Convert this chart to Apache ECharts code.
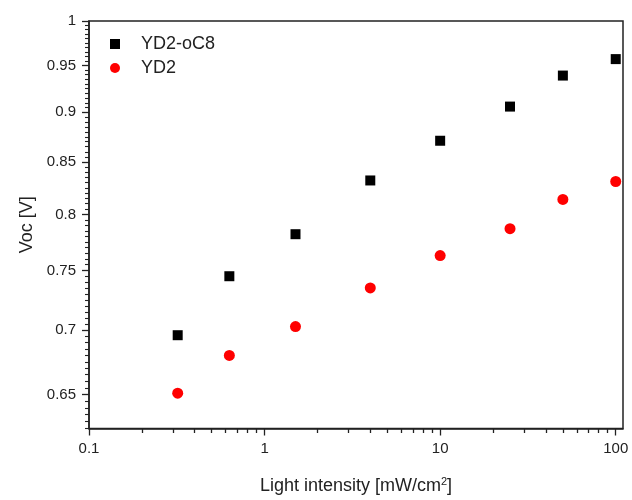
<!DOCTYPE html>
<html>
<head>
<meta charset="utf-8">
<script src="https://cdn.jsdelivr.net/npm/echarts@6/dist/echarts.min.js"></script>
<style>
html,body{margin:0;padding:0;background:#fff;}
#chart{width:632px;height:500px;}
</style>
</head>
<body>
<div id="chart"></div>
<script>
// Light intensity (mW/cm^2)
var intensity = [0.32, 0.63, 1.5, 4, 10, 25, 50, 100];
// Voc (V)
var vocYD2oC8 = [0.696, 0.745, 0.782, 0.832, 0.871, 0.906, 0.939, 0.957];
var vocYD2 = [0.651, 0.680, 0.703, 0.735, 0.763, 0.787, 0.814, 0.831];
// Axis ticks
var xTickLabels = [0.1, 1, 10, 100];
var yTickLabels = [0.65, 0.7, 0.75, 0.8, 0.85, 0.9, 0.95, 1];
var xRange = [0.1, 110];
var yRange = [0.625, 1];

var lg = function (v) { return Math.log10(v); };
var fmt = function (v) { return String(Math.round(Math.pow(10, v) * 1000) / 1000); };

var xMinor = [];
[0.1, 1, 10].forEach(function (d) { for (var k = 2; k <= 9; k++) xMinor.push(lg(d * k)); });
var yMinor = [];
for (var i = 0; i <= 75; i++) { var v = 0.625 + i * 0.005; if (Math.round(v * 1000) % 50 !== 0) yMinor.push(lg(v)); }

var font = 'Liberation Sans, Arial, sans-serif';
var axisColor = '#222';
var G = {left: 89, right: 9, top: 21, bottom: 71};
var gridW = 632 - G.left - G.right, gridH = 500 - G.top - G.bottom;

var chart = echarts.init(document.getElementById('chart'), null, {renderer: 'canvas'});
chart.setOption({
  animation: false,
  grid: {left: G.left, right: G.right, top: G.top, bottom: G.bottom, show: true, borderColor: axisColor, borderWidth: 1.5, backgroundColor: 'transparent'},
  legend: {
    orient: 'vertical', left: 105, top: 30, itemGap: 6, itemWidth: 10, itemHeight: 10,
    textStyle: {fontFamily: font, fontSize: 18, color: '#222', padding: [0, 0, 0, 16]},
    data: [{name: 'YD2-oC8', icon: 'rect'}, {name: 'YD2', icon: 'circle'}]
  },
  xAxis: [{
    type: 'value', position: 'bottom', min: lg(xRange[0]), max: lg(xRange[1]),
    name: 'Light intensity [mW/cm{sup|2}]', nameLocation: 'middle', nameGap: 48,
    nameTextStyle: {fontFamily: font, fontSize: 18, color: '#222',
      rich: {sup: {fontFamily: font, fontSize: 11, color: '#222', verticalAlign: 'top', padding: [0, 0, 8, 0]}}},
    axisLine: {show: true, onZero: false, lineStyle: {color: axisColor, width: 1.5}},
    axisTick: {show: true, inside: false, length: 7, lineStyle: {color: axisColor, width: 1.3}, customValues: xTickLabels.map(lg)},
    axisLabel: {show: true, margin: 13, fontFamily: font, fontSize: 15, color: '#222', customValues: xTickLabels.map(lg), formatter: fmt},
    splitLine: {show: false}
  }, {
    type: 'value', position: 'top', offset: -gridH, min: lg(xRange[0]), max: lg(xRange[1]),
    axisLine: {show: false, onZero: false},
    axisTick: {show: true, inside: true, length: 4, lineStyle: {color: axisColor, width: 1.3}, customValues: xMinor},
    axisLabel: {show: false},
    splitLine: {show: false}
  }],
  yAxis: [{
    type: 'value', position: 'left', min: lg(yRange[0]), max: lg(yRange[1]),
    name: 'Voc [V]', nameLocation: 'middle', nameGap: 50, nameRotate: 90,
    nameTextStyle: {fontFamily: font, fontSize: 18, color: '#222'},
    axisLine: {show: true, onZero: false, lineStyle: {color: axisColor, width: 1.5}},
    axisTick: {show: true, inside: false, length: 7, lineStyle: {color: axisColor, width: 1.3}, customValues: yTickLabels.map(lg)},
    axisLabel: {show: true, margin: 13, fontFamily: font, fontSize: 15, color: '#222', customValues: yTickLabels.map(lg), formatter: fmt},
    splitLine: {show: false}
  }, {
    type: 'value', position: 'right', offset: -gridW, min: lg(yRange[0]), max: lg(yRange[1]),
    axisLine: {show: false, onZero: false},
    axisTick: {show: true, inside: true, length: 4, lineStyle: {color: axisColor, width: 1.1}, customValues: yMinor},
    axisLabel: {show: false},
    splitLine: {show: false}
  }],
  series: [{
    name: 'YD2-oC8', type: 'scatter', xAxisIndex: 0, yAxisIndex: 0,
    symbol: 'rect', symbolSize: 10, itemStyle: {color: '#000', opacity: 1},
    data: intensity.map(function (x, i) { return [lg(x), lg(vocYD2oC8[i])]; })
  }, {
    name: 'YD2', type: 'scatter', xAxisIndex: 0, yAxisIndex: 0,
    symbol: 'circle', symbolSize: 11, itemStyle: {color: '#f00', opacity: 1},
    data: intensity.map(function (x, i) { return [lg(x), lg(vocYD2[i])]; })
  }]
});
</script>
</body>
</html>
